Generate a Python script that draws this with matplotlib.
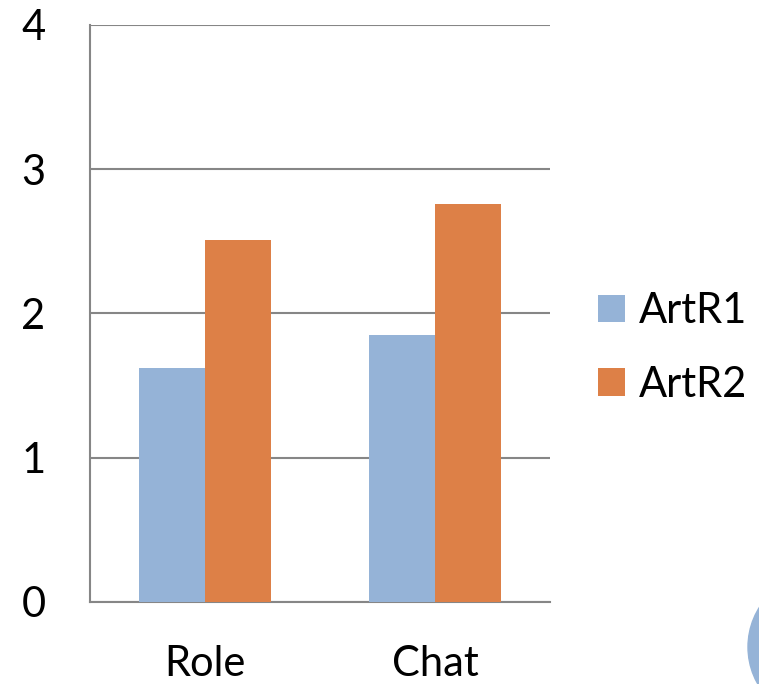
import matplotlib
matplotlib.use("Agg")
import matplotlib.pyplot as plt
from matplotlib.patches import Ellipse
import numpy as np

categories = ["Role", "Chat"]
series_names = ["ArtR1", "ArtR2"]
artr1 = [1.62, 1.85]
artr2 = [2.51, 2.76]
yticks = [0, 1, 2, 3, 4]

plt.rcParams['font.family'] = ['Lato', 'DejaVu Sans']

W, H = 759, 684
fig = plt.figure(figsize=(W / 100, H / 100), dpi=100)
ax = fig.add_axes([90 / W, 1 - 601.7 / H, 460 / W, (601.7 - 25) / H])

blue = "#95B3D7"
orange = "#DD8047"
grid = "#868686"

x = np.arange(len(categories))
bw = 0.287
ax.bar(x - bw / 2, artr1, bw, color=blue, label=series_names[0], zorder=3)
ax.bar(x + bw / 2, artr2, bw, color=orange, label=series_names[1], zorder=3)

ax.set_xlim(-0.5, 1.5)
ax.set_ylim(0, 4)
ax.set_yticks(yticks)
ax.set_yticklabels([str(v) for v in yticks])
ax.set_xticks(x)
ax.set_xticklabels(categories)
ax.yaxis.grid(True, color=grid, linewidth=1.5, zorder=0)
ax.set_axisbelow(True)
for s in ["top", "right"]:
    ax.spines[s].set_visible(False)
for s in ["left", "bottom"]:
    ax.spines[s].set_color(grid)
    ax.spines[s].set_linewidth(1.5)
ax.tick_params(axis='both', length=0, labelsize=30, labelcolor="black")
ax.tick_params(axis='y', pad=32)
ax.tick_params(axis='x', pad=31)

leg = ax.legend(loc='center left', bbox_to_anchor=(598 / W, 1 - 348 / H),
                bbox_transform=fig.transFigure, frameon=False, fontsize=30,
                handlelength=0.64, handleheight=0.64, handletextpad=0.33,
                labelspacing=0.85, borderaxespad=0, borderpad=0)

r = 74.6
fig.patches.append(Ellipse((822.6 / W, 1 - 647 / H), 2 * r / W, 2 * r / H,
                           transform=fig.transFigure, color=blue, zorder=0))

fig.savefig("out.png", dpi=100)
